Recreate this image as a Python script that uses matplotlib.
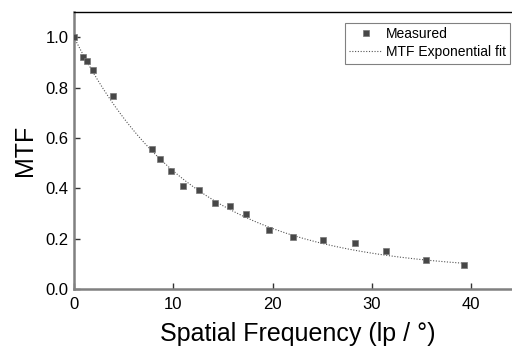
import matplotlib
matplotlib.use("Agg")
import matplotlib.pyplot as plt
import numpy as np

plt.rcParams['font.family'] = ['Liberation Sans', 'DejaVu Sans']

# measured MTF points
freq = [0.0, 0.95, 1.35, 1.95, 3.9, 7.9, 8.66, 9.8, 11.0, 12.55,
        14.16, 15.7, 17.3, 19.66, 22.0, 25.1, 28.3, 31.4, 35.4, 39.3]
mtf = [1.0, 0.92, 0.905, 0.871, 0.765, 0.555, 0.515, 0.468, 0.409, 0.395,
       0.343, 0.328, 0.299, 0.236, 0.208, 0.196, 0.184, 0.152, 0.117, 0.096]

# exponential fit  y = y0 + A * exp(-x / t)
fit_y0 = 0.0684
fit_A = 0.9316
fit_t = 11.83

xticks = [0, 10, 20, 30, 40]
yticks = [0.0, 0.2, 0.4, 0.6, 0.8, 1.0]

fig = plt.figure(figsize=(5.12, 3.49), dpi=100)
ax = fig.add_axes([74 / 512, 1 - 289 / 349, 447 / 512, 277 / 349])

xf = np.linspace(0, freq[-1], 200)
yf = fit_y0 + fit_A * np.exp(-xf / fit_t)
ax.plot(xf, yf, linestyle=(0, (1, 1.5)), color='#555555', linewidth=0.8,
        label='MTF Exponential fit', zorder=2)
ax.plot(freq, mtf, linestyle='none', marker='s', markersize=5,
        color='#474747', markeredgecolor='#777777', markeredgewidth=0.5,
        label='Measured', zorder=3)

ax.set_xlim(0, 45)
ax.set_ylim(0, 1.1)
ax.set_xticks(xticks)
ax.set_yticks(yticks)
ax.set_xticklabels([str(v) for v in xticks])
ax.set_yticklabels(['%.1f' % v for v in yticks])
ax.tick_params(direction='in', length=4, width=1, labelsize=12,
               color='#333333')
ax.tick_params(axis='x', pad=6)
ax.tick_params(axis='y', pad=4)

for s in ['left', 'bottom']:
    ax.spines[s].set_color('#808080')
    ax.spines[s].set_linewidth(1.8)
ax.spines['top'].set_color('black')
ax.spines['top'].set_linewidth(1)
ax.spines['right'].set_visible(False)

ax.set_xlabel('Spatial Frequency (lp / °)', fontsize=18, labelpad=7)
ax.set_ylabel('MTF', fontsize=18, labelpad=6)

handles, labels = ax.get_legend_handles_labels()
leg = ax.legend(handles[::-1], labels[::-1], loc='upper right',
                bbox_to_anchor=(510 / 512, 1 - 23 / 349),
                bbox_transform=fig.transFigure, fontsize=10, fancybox=False,
                edgecolor='#808080', framealpha=1, handlelength=2.4,
                handletextpad=0.25, borderpad=0.3, labelspacing=0.3,
                borderaxespad=0)
leg.get_frame().set_linewidth(0.8)

fig.savefig('out.png', dpi=100)
